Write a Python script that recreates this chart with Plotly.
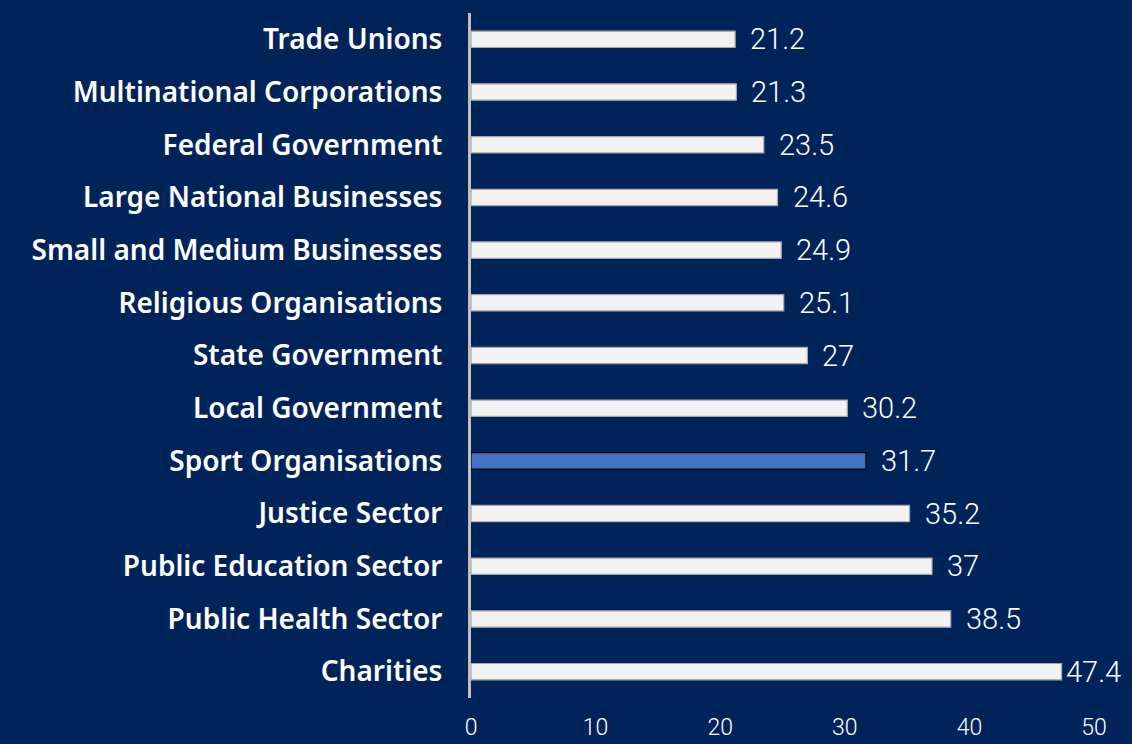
import plotly.graph_objects as go

categories = ['Trade Unions', 'Multinational Corporations', 'Federal Government',
              'Large National Businesses', 'Small and Medium Businesses',
              'Religious Organisations', 'State Government', 'Local Government',
              'Sport Organisations', 'Justice Sector', 'Public Education Sector',
              'Public Health Sector', 'Charities']
values = [21.2, 21.3, 23.5, 24.6, 24.9, 25.1, 27, 30.2, 31.7, 35.2, 37, 38.5, 47.4]
highlight = 'Sport Organisations'
x_ticks = [0, 10, 20, 30, 40, 50]

BG = '#00245A'

colors = ['#4472C4' if c == highlight else '#F2F2F2' for c in categories]
lines = ['#000000' if c == highlight else '#A6A6A6' for c in categories]

fig = go.Figure()
fig.add_trace(go.Bar(
    x=values,
    y=categories,
    orientation='h',
    width=0.31,
    marker=dict(color=colors, line=dict(color=lines, width=1.2)),
    showlegend=False,
    hoverinfo='skip',
))

# value labels next to each bar (the longest one is tucked in so it fits)
vmax = max(values)
for c, v in zip(categories, values):
    fig.add_annotation(
        x=v, y=c, text=f'{v:g}', showarrow=False,
        xanchor='left', xshift=2 if v == vmax else 13,
        font=dict(family='Roboto', size=29, color='#FFFFFF', weight=300),
    )

fig.update_layout(
    width=1132, height=744,
    paper_bgcolor=BG, plot_bgcolor=BG,
    margin=dict(l=471, r=38, t=13, b=46),
    xaxis=dict(
        range=[0, 50], tickvals=x_ticks, showgrid=False, zeroline=False,
        showline=False, ticks='', ticklabelstandoff=13, automargin=False,
        tickfont=dict(family='Roboto', size=23, color='#FFFFFF', weight=300),
    ),
    yaxis=dict(
        autorange='reversed', showgrid=False, zeroline=False,
        showline=True, linecolor='#BFBFBF', linewidth=3,
        ticks='', ticklabelstandoff=20, automargin=False,
        tickfont=dict(family='Noto Sans', size=28, color='#FFFFFF', weight=600),
    ),
)

fig.write_html('out.html', config={'displayModeBar': False},
               post_script="document.body.style.margin='0';")
